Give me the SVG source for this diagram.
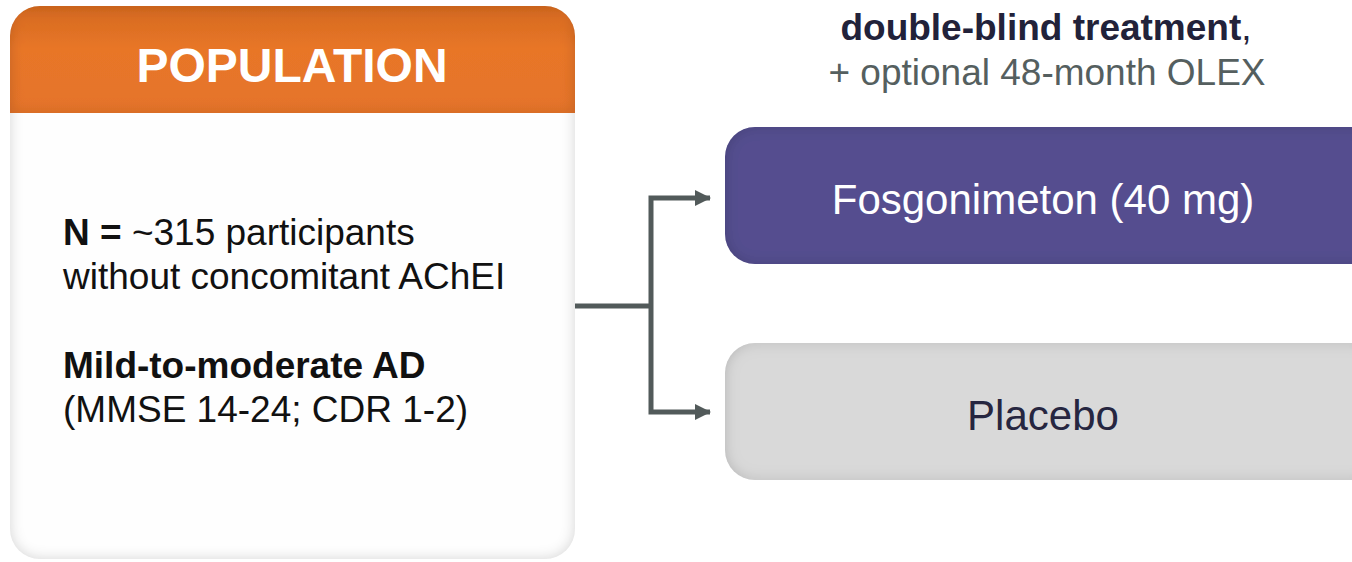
<svg xmlns="http://www.w3.org/2000/svg" width="1352" height="562" viewBox="0 0 1352 562">
<style>
text{font-family:"Liberation Sans",Arial,sans-serif}
.body{font-size:37px;fill:#111}
.conn{fill:none;stroke:#525a5a;stroke-width:5;stroke-linejoin:miter}
</style>
<defs>
<filter id="inset" x="-5%" y="-5%" width="110%" height="110%">
<feFlood flood-color="#000" flood-opacity="0.35"/>
<feComposite in2="SourceAlpha" operator="out"/>
<feGaussianBlur stdDeviation="7"/>
<feComposite in2="SourceAlpha" operator="in"/>
<feComposite in2="SourceGraphic" operator="over"/>
</filter>
<linearGradient id="orange" x1="0" y1="0" x2="0" y2="1">
<stop offset="0" stop-color="#d4691f"/>
<stop offset="0.4" stop-color="#e87628"/>
<stop offset="1" stop-color="#e5742a"/>
</linearGradient>
<clipPath id="popclip"><rect x="10" y="6" width="565" height="556" rx="30"/></clipPath>
<marker id="arr" markerWidth="16" markerHeight="16" refX="15" refY="8" orient="auto" markerUnits="userSpaceOnUse">
<path d="M0,0 L16,8 L0,16 Z" fill="#525a5a"/>
</marker>
</defs>
<rect width="1352" height="562" fill="#fff"/>

<g id="population">
<rect x="10" y="6" width="565" height="553" rx="30" fill="#fefefe" filter="url(#inset)"/>
<g clip-path="url(#popclip)">
<rect x="10" y="6" width="565" height="107" fill="url(#orange)" filter="url(#inset)"/>
</g>
<text x="292" y="82" text-anchor="middle" font-size="48" font-weight="bold" fill="#fff">POPULATION</text>
<text class="body" x="63" y="245"><tspan font-weight="bold">N =</tspan> ~315 participants</text>
<text class="body" x="63" y="289">without concomitant AChEI</text>
<text class="body" x="63" y="378" font-weight="bold">Mild-to-moderate AD</text>
<text class="body" x="63" y="422">(MMSE 14-24; CDR 1-2)</text>
</g>

<g id="title">
<text x="1046" y="40" text-anchor="middle" font-size="37" fill="#22223a"><tspan font-weight="bold">double-blind treatment</tspan>,</text>
<text x="1047" y="85" text-anchor="middle" font-size="37" fill="#555f5f">+ optional 48-month OLEX</text>
</g>

<g id="fosgonimeton">
<rect x="725" y="127" width="660" height="137" rx="30" fill="#544e8f" filter="url(#inset)"/>
<text x="1043" y="214" text-anchor="middle" font-size="42" fill="#fff">Fosgonimeton (40 mg)</text>
</g>

<g id="placebo">
<rect x="725" y="343" width="660" height="137" rx="30" fill="#d9d9d9" filter="url(#inset)"/>
<text x="1043" y="430" text-anchor="middle" font-size="42" fill="#262640">Placebo</text>
</g>

<g id="connectors">
<path class="conn" d="M575,306 H651"/>
<path class="conn" d="M651,306 V198 H710" marker-end="url(#arr)"/>
<path class="conn" d="M651,306 V412 H710" marker-end="url(#arr)"/>
</g>
</svg>
